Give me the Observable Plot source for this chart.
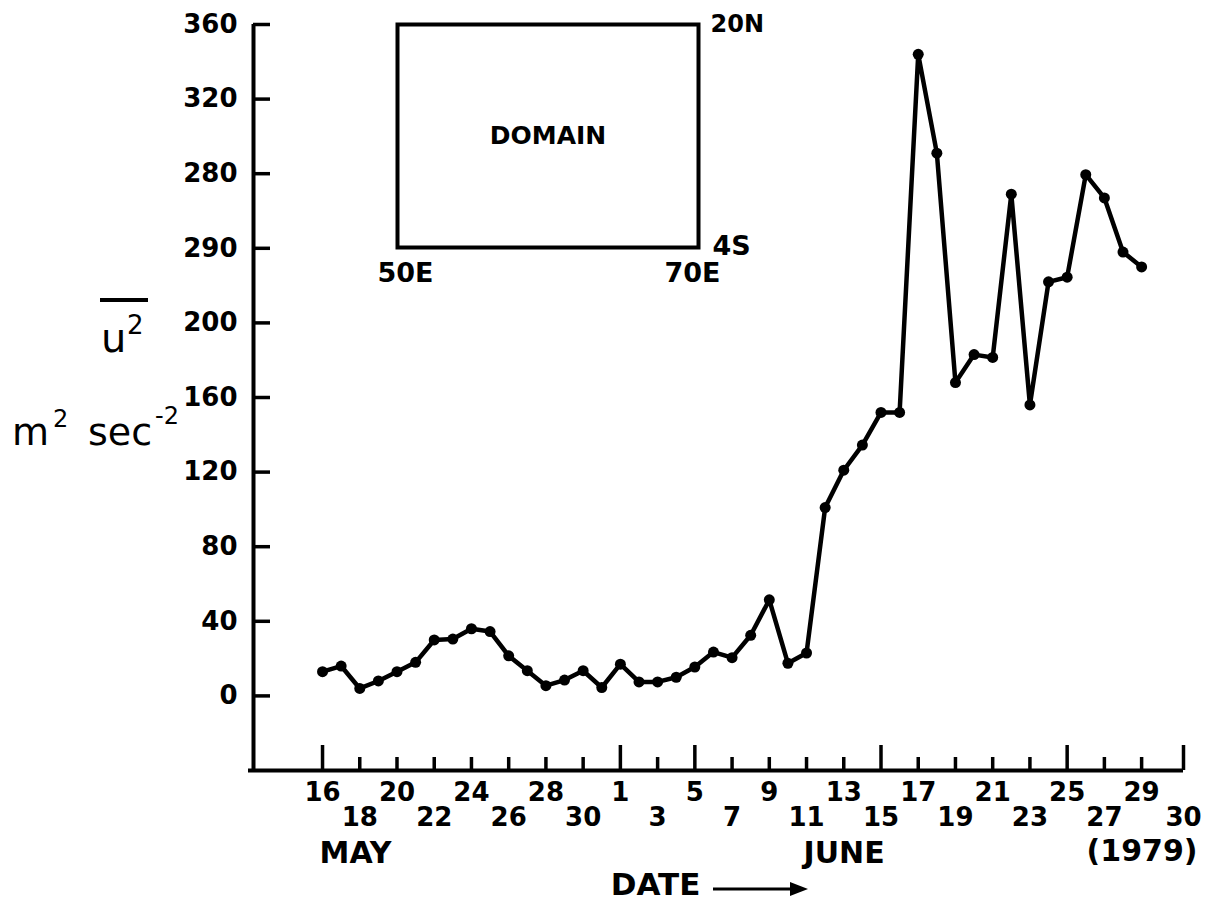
<!DOCTYPE html>
<html>
<head>
<meta charset="utf-8">
<script src="https://cdn.jsdelivr.net/npm/d3@7"></script>
<script src="https://cdn.jsdelivr.net/npm/@observablehq/plot@0.6"></script>
<style>
  html, body { margin: 0; padding: 0; background: #fff; overflow: hidden; }
  #chart { position: relative; width: 1212px; height: 918px; }
  #chart svg { display: block; position: absolute; left: 0; top: 0; }
</style>
</head>
<body>
<div id="chart"></div>
<script>
// Daily mean u² over the box 4S–20N, 50E–70E (m² sec⁻²), 16 May – 29 June 1979
const startDate = "1979-05-16";
const u2Values = [
  13, 16, 4, 8, 13, 18, 30, 30.5, 36, 34.5, 21.5, 13.5, 5.5, 8.5, 13.5, 4.5,          // May 16–31
  17, 7.5, 7.5, 10, 15.5, 23.5, 20.5, 32.5, 51.5, 17.5, 23, 101, 121, 134.5, 152,     // June 1–15
  152, 344, 291, 168, 183, 181.5, 269, 156, 222, 224.5, 279.5, 267, 238, 230          // June 16–29
];

// Time axis: runs from a little before 16 May to the close of 30 June
const xDomain = ["1979-05-12T07:00Z", "1979-07-01T06:00Z"];
const xTickDatesUpper = ["1979-05-16", "1979-05-20", "1979-05-24", "1979-05-28", "1979-06-01", "1979-06-05",
                         "1979-06-09", "1979-06-13", "1979-06-17", "1979-06-21", "1979-06-25", "1979-06-29"];
const xTickLabelsUpper = ["16", "20", "24", "28", "1", "5", "9", "13", "17", "21", "25", "29"];
const xTickDatesLower = ["1979-05-18", "1979-05-22", "1979-05-26", "1979-05-30", "1979-06-03", "1979-06-07",
                         "1979-06-11", "1979-06-15", "1979-06-19", "1979-06-23", "1979-06-27", "1979-07-01T06:00Z"];
const xTickLabelsLower = ["18", "22", "26", "30", "3", "7", "11", "15", "19", "23", "27", "30"];
const xMajorTickDates = ["1979-05-16", "1979-06-01", "1979-06-05", "1979-06-15", "1979-06-25", "1979-07-01T06:00Z"];
const monthLabels = ["MAY", "JUNE"];
const monthLabelDates = ["1979-05-16", "1979-06-11"];
const yearLabel = "(1979)";
const xAxisTitle = "DATE";

// Value axis
const yDomain = [-40, 360];
const yTickValues = [0, 40, 80, 120, 160, 200, 240, 280, 320, 360];
const yTickLabels = ["0", "40", "80", "120", "160", "200", "290", "280", "320", "360"];

// Inset: the averaging domain
const domainLon = [50, 70];
const domainLat = [-4, 20];
const domainCornerLabels = [
  {text: "20N", lon: 70, lat: 20},
  {text: "4S",  lon: 70, lat: -4},
  {text: "50E", lon: 50, lat: -4},
  {text: "70E", lon: 70, lat: -4}
];

const toDate = (s) => new Date(s);
const day0 = toDate(startDate);
const series = u2Values.map((v, i) => ({date: d3.utcDay.offset(day0, i), u2: v}));
const allTickDates = [...xTickDatesUpper, ...xTickDatesLower].map(toDate);
const majorSet = new Set(xMajorTickDates.map((s) => +toDate(s)));
const minorTickDates = allTickDates.filter((d) => !majorSet.has(+d));

const W = 1212, H = 918;
const mTop = 24, mBottom = 148, mLeft = 253, mRight = 29;
const innerW = W - mLeft - mRight, innerH = H - mTop - mBottom;
const ink = "#000";
const FONT = "DejaVu Sans, sans-serif";
const below = {frameAnchor: "bottom", lineAnchor: "middle", fontWeight: "bold"};

const chart = Plot.plot({
  width: W,
  height: H,
  marginTop: mTop,
  marginBottom: mBottom,
  marginLeft: mLeft,
  marginRight: mRight,
  style: {background: "white", color: ink, fontFamily: FONT, fontSize: "26px", fontWeight: "bold"},
  x: {type: "utc", domain: xDomain.map(toDate), axis: null},
  y: {domain: yDomain, axis: null},
  marks: [
    // axis lines
    Plot.ruleY([yDomain[0]], {stroke: ink, strokeWidth: 4, insetLeft: -5}),
    Plot.ruleX([toDate(xDomain[0])], {stroke: ink, strokeWidth: 4, insetBottom: -2}),
    // ticks pointing into the plot
    Plot.ruleY(yTickValues, {y: (d) => d, stroke: ink, strokeWidth: 3.5, insetRight: innerW - 17}),
    Plot.ruleX(minorTickDates, {x: (d) => d, stroke: ink, strokeWidth: 3.5, insetTop: innerH - 13}),
    Plot.ruleX(xMajorTickDates, {x: toDate, stroke: ink, strokeWidth: 3.5, insetTop: innerH - 25}),
    // tick labels
    Plot.text(yTickValues, {y: (d) => d, text: (d, i) => yTickLabels[i], frameAnchor: "left",
      dx: -16, textAnchor: "end", fontSize: 26, fontWeight: "bold"}),
    Plot.text(xTickDatesUpper, {...below, x: toDate, text: (d, i) => xTickLabelsUpper[i], dy: 22, fontSize: 26}),
    Plot.text(xTickDatesLower, {...below, x: toDate, text: (d, i) => xTickLabelsLower[i], dy: 47, fontSize: 26}),
    Plot.text(monthLabels, {...below, x: (d, i) => toDate(monthLabelDates[i]), text: (d) => d,
      dy: 83, dx: -3, textAnchor: "start", fontSize: 30}),
    Plot.text([yearLabel], {...below, x: () => toDate(xDomain[1]), text: (d) => d,
      dy: 81, dx: 14, textAnchor: "end", fontSize: 30}),
    Plot.text([xAxisTitle], {...below, text: (d) => d, dy: 115, dx: -63, fontSize: 31}),
    // the series
    Plot.line(series, {x: "date", y: "u2", stroke: ink, strokeWidth: 4.5, strokeLinejoin: "round"}),
    Plot.dot(series, {x: "date", y: "u2", r: 5.5, fill: ink, stroke: "none"})
  ]
});

const svg = d3.select(chart);

// Arrow after the axis title, pointing in the direction of time
const arrow = svg.append("g").attr("fill", ink).attr("stroke", ink);
arrow.append("line").attr("x1", 713).attr("x2", 795).attr("y1", 889).attr("y2", 889).attr("stroke-width", 3);
arrow.append("path").attr("d", "M808,889 L790,882 L790,896 Z").attr("stroke", "none");

// Y-axis quantity and units
const ylab = svg.append("g").attr("fill", ink).attr("font-family", FONT)
  .attr("font-weight", "normal").attr("text-anchor", "start");
ylab.append("text").attr("x", 101).attr("y", 352).attr("font-size", 40).text("u");
ylab.append("text").attr("x", 127).attr("y", 334).attr("font-size", 26).text("2");
ylab.append("line").attr("x1", 100).attr("x2", 148).attr("y1", 300).attr("y2", 300)
  .attr("stroke", ink).attr("stroke-width", 4);
const units = ylab.append("text").attr("y", 445).attr("font-size", 38);
units.append("tspan").attr("x", 12).text("m");
units.append("tspan").attr("x", 53).attr("dy", -18).attr("font-size", 24).text("2");
units.append("tspan").attr("x", 88).attr("dy", 18).text("sec");
units.append("tspan").attr("x", 155).attr("dy", -21).attr("font-size", 24).text("-2");

// Inset map of the averaging domain
const inset = Plot.plot({
  width: W,
  height: 300,
  marginTop: 24,
  marginLeft: 397,
  marginRight: W - 698,
  marginBottom: 300 - 247,
  style: {background: "transparent", color: ink, fontFamily: FONT, fontWeight: "bold", pointerEvents: "none"},
  x: {domain: domainLon, axis: null},
  y: {domain: domainLat, axis: null},
  marks: [
    Plot.frame({stroke: ink, strokeWidth: 4}),
    Plot.text(["DOMAIN"], {text: (d) => d, frameAnchor: "middle", fontSize: 25, fontWeight: "bold"}),
    Plot.text(domainCornerLabels.filter((d) => d.text === "20N"), {x: "lon", y: "lat", text: "text",
      dx: 12, textAnchor: "start", fontSize: 24, fontWeight: "bold", letterSpacing: 2}),
    Plot.text(domainCornerLabels.filter((d) => d.text === "4S"), {x: "lon", y: "lat", text: "text",
      dx: 14, dy: -1, textAnchor: "start", fontSize: 27, fontWeight: "bold"}),
    Plot.text(domainCornerLabels.filter((d) => d.text === "50E"), {x: "lon", y: "lat", text: "text",
      dx: 8, dy: 26, fontSize: 27, fontWeight: "bold"}),
    Plot.text(domainCornerLabels.filter((d) => d.text === "70E"), {x: "lon", y: "lat", text: "text",
      dx: -6, dy: 26, fontSize: 27, fontWeight: "bold"})
  ]
});

const holder = document.getElementById("chart");
holder.appendChild(chart);
holder.appendChild(inset);
</script>
</body>
</html>
